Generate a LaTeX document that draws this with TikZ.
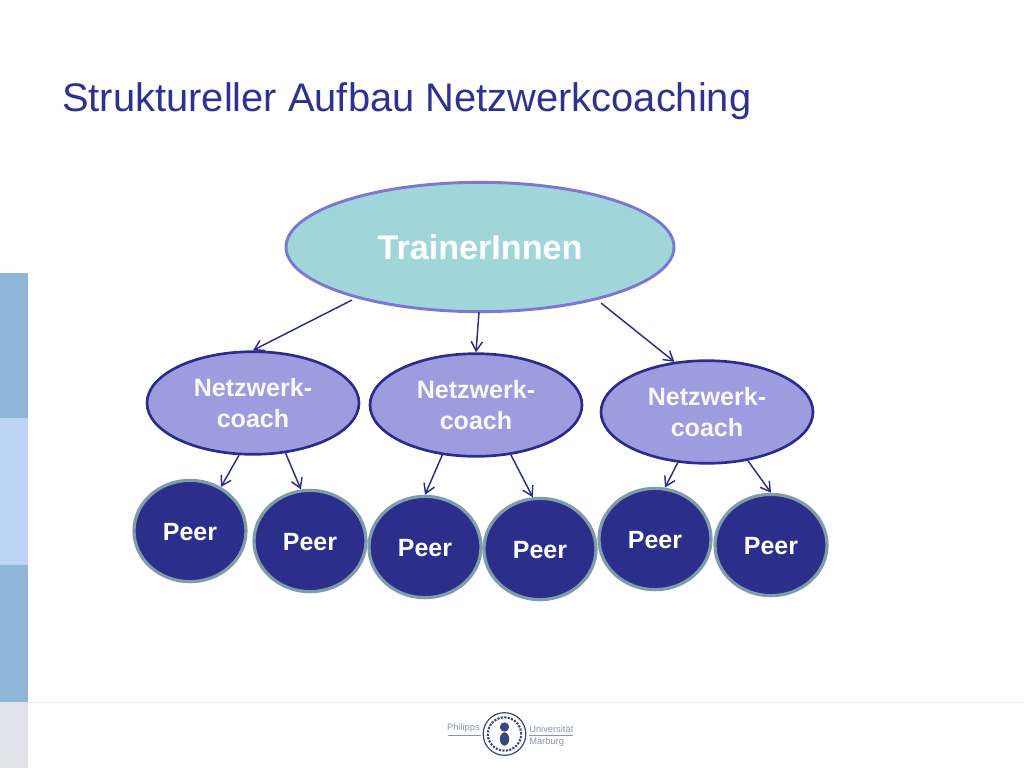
\documentclass[tikz,border=0pt]{standalone}
\usepackage{fontspec}
\setmainfont{Liberation Sans}
\usetikzlibrary{positioning, arrows.meta, shapes.geometric}
\definecolor{titel}{HTML}{2E3192}
\definecolor{trainerfill}{HTML}{A0D5D9}
\definecolor{trainerrand}{HTML}{7C78D2}
\definecolor{coachfill}{HTML}{9C9CDE}
\definecolor{coachrand}{HTML}{2C2C8E}
\definecolor{peerfill}{HTML}{2B2E8B}
\definecolor{peerrand}{HTML}{7F9CA9}
\definecolor{balkena}{HTML}{8FB5D9}
\definecolor{balkenb}{HTML}{BDD3F5}
\definecolor{balkenc}{HTML}{E2E3EA}
\definecolor{logo}{HTML}{8C92BC}
\definecolor{siegel}{HTML}{3A4680}

\begin{document}
\begin{tikzpicture}[x=0.75pt, y=-0.75pt, font=\bfseries,
		trainerknoten/.style={ellipse, fill=trainerfill, draw=trainerrand, line width=2.2pt, inner sep=0pt,
			minimum width=291pt, minimum height=97pt, text=white, font=\bfseries\fontsize{25.6}{30}\selectfont},
		coachknoten/.style={ellipse, fill=coachfill, draw=coachrand, line width=2pt, inner sep=0pt,
			minimum width=159pt, minimum height=77pt, align=center, text=white!93!coachfill,
			font=\bfseries\fontsize{18.8}{23}\selectfont},
		peerknoten/.style={ellipse, fill=peerfill, draw=peerrand, line width=2.4pt, inner sep=0pt,
			minimum width=84pt, minimum height=76pt},
		pfeil/.style={draw=coachrand, line width=1.1pt, -{Straight Barb[length=7pt, width=8.5pt]}},
		logotext/.style={text=logo, inner sep=0pt, font=\fontsize{7}{9}\selectfont}]
	\useasboundingbox (0,0) rectangle (1024,768);

	% balken links
	\fill[balkena] (0,273) rectangle (28,418);
	\fill[balkenb] (0,418) rectangle (28,565);
	\fill[balkena] (0,565) rectangle (28,702);
	\fill[balkenc] (0,702) rectangle (28,768);
	\draw[balkenc!60, line width=0.75pt] (28,702.5) -- (1024,702.5);

	\node[anchor=west, inner sep=0pt, text=titel, font=\fontsize{29.9}{34}\selectfont] (titelzeile) at (62,101)
		{Struktureller Aufbau Netzwerkcoaching};

	\node[trainerknoten] (trainer) at (480,247) {TrainerInnen};

	\foreach \n/\x/\y in {1/253/403, 2/476/405, 3/707/412} {
		\node[coachknoten] (coach\n) at (\x,\y) {Netzwerk-\\coach};
	}

	\foreach \n/\x/\y in {1/190/531, 2/310/541, 3/425/547, 4/540/549, 5/655/539, 6/771/545} {
		\node[peerknoten] (peer\n) at (\x,\y) {};
		\node[text=white, inner sep=0pt, font=\bfseries\fontsize{18.7}{22}\selectfont] (peertext\n) at (\x,\y+1.5) {Peer};
	}

	% freie pfeilenden
	\coordinate (start1) at (352,300);
	\coordinate (start2) at (479,312);
	\coordinate (start3) at (601,303);

	\draw[pfeil] (start1) -- (coach1.north);
	\draw[pfeil] (start2) -- (coach2.north);
	\draw[pfeil] (start3) -- (coach3.123);

	\foreach \a/\w/\b/\z in {coach1/255/peer1/55, coach1/303/peer2/100, coach2/236/peer3/90,
	                         coach2/305/peer4/98, coach3/240/peer5/79, coach3/310/peer6/90} {
		\draw[pfeil] (\a.\w) -- (\b.\z);
	}

	% logo
	\node[logotext, anchor=south east] (philipps) at (480,733) {Philipps};
	\node[logotext, anchor=south west] (universitaet) at (529,733) {Universität};
	\node[logotext, anchor=north west] (marburg) at (529,737) {Marburg};
	\draw[logo, line width=0.6pt] (448,735.5) -- (481,735.5);
	\draw[logo, line width=0.6pt] (529,735.5) -- (573,735.5);
	\node[circle, draw=siegel, line width=0.9pt, fill=white, minimum size=32pt, inner sep=0pt] (siegelrand) at (504.5,734) {};
	\node[circle, draw=siegel, densely dotted, line width=1.6pt, minimum size=25pt, inner sep=0pt] (siegelschrift) at (504.5,734) {};
	\node[circle, fill=siegel, minimum size=7pt, inner sep=0pt] (siegelkopf) at (504.5,727) {};
	\node[ellipse, fill=siegel, minimum width=7pt, minimum height=10pt, inner sep=0pt] (siegelkoerper) at (504.5,739) {};
\end{tikzpicture}
\end{document}
